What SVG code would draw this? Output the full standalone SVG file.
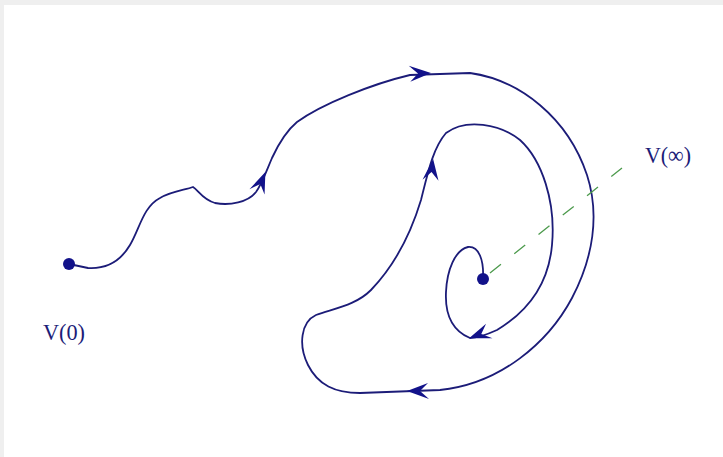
<svg xmlns="http://www.w3.org/2000/svg" width="723" height="457" viewBox="0 0 723 457">
<style>
.curve{fill:none;stroke:#1c1c78;stroke-width:1.8;stroke-linejoin:round;stroke-linecap:round}
.dash{fill:none;stroke:#4c9a4c;stroke-width:1.3;stroke-dasharray:14 17}
.dot{fill:#12128a}
.lbl{font-family:"Liberation Serif","Times New Roman",serif;font-size:24px;fill:#1c1c78}
.ah{fill:#12128a}
</style>
<defs>
<path id="head" d="M1,0 L-21,-8 L-12,0 L-20,8 Z"/>
</defs>
<rect x="0" y="0" width="723" height="457" fill="#efefef"/>
<rect x="4" y="5" width="719" height="452" fill="#ffffff"/>
<g id="connectors">
<path id="trajectory" class="curve" d="M69,264 L88,268 C105,269 120,262 130,245 C140,228 143,207 160,198 C172,191 185,190 193,187 C198,190 203,200 215,203 C230,206 248,202 256,192 C262,184 266,172 272,158 C278,145 285,132 297,122 C322,104 372,84 410,75 L470,73 C520,80 568,118 587,175 C600,215 593,258 572,298 C548,343 500,384 440,390 L360,393 C335,393 318,385 308,365 C298,345 301,322 316,315 C336,308 356,305 371,290 C395,265 411,233 421,200 C428,172 433,148 446,133 C466,118 500,124 520,140 C542,160 556,202 552,245 C548,290 522,315 497,330 C486,335 476,338 470,338 C451,330 445,312 446,292 C447,270 455,250 468,247 C479,246 484,260 483,279"/>
<path id="to-infinity" class="dash" d="M490,273 L622,168"/>
<use href="#head" class="ah" transform="translate(265,173) rotate(-67)"/>
<use href="#head" class="ah" transform="translate(430,73) rotate(-2)"/>
<use href="#head" class="ah" transform="translate(433,160) rotate(-83)"/>
<use href="#head" class="ah" transform="translate(470,338) rotate(160)"/>
<use href="#head" class="ah" transform="translate(408,391) rotate(180)"/>
</g>
<g id="node-v0">
<circle class="dot" cx="69" cy="264" r="6"/>
<text class="lbl" x="43" y="340" textLength="42" lengthAdjust="spacingAndGlyphs">V(0)</text>
</g>
<g id="node-vinf">
<circle class="dot" cx="483" cy="279" r="6"/>
<text class="lbl" x="645" y="163" textLength="46" lengthAdjust="spacingAndGlyphs">V(∞)</text>
</g>
</svg>
